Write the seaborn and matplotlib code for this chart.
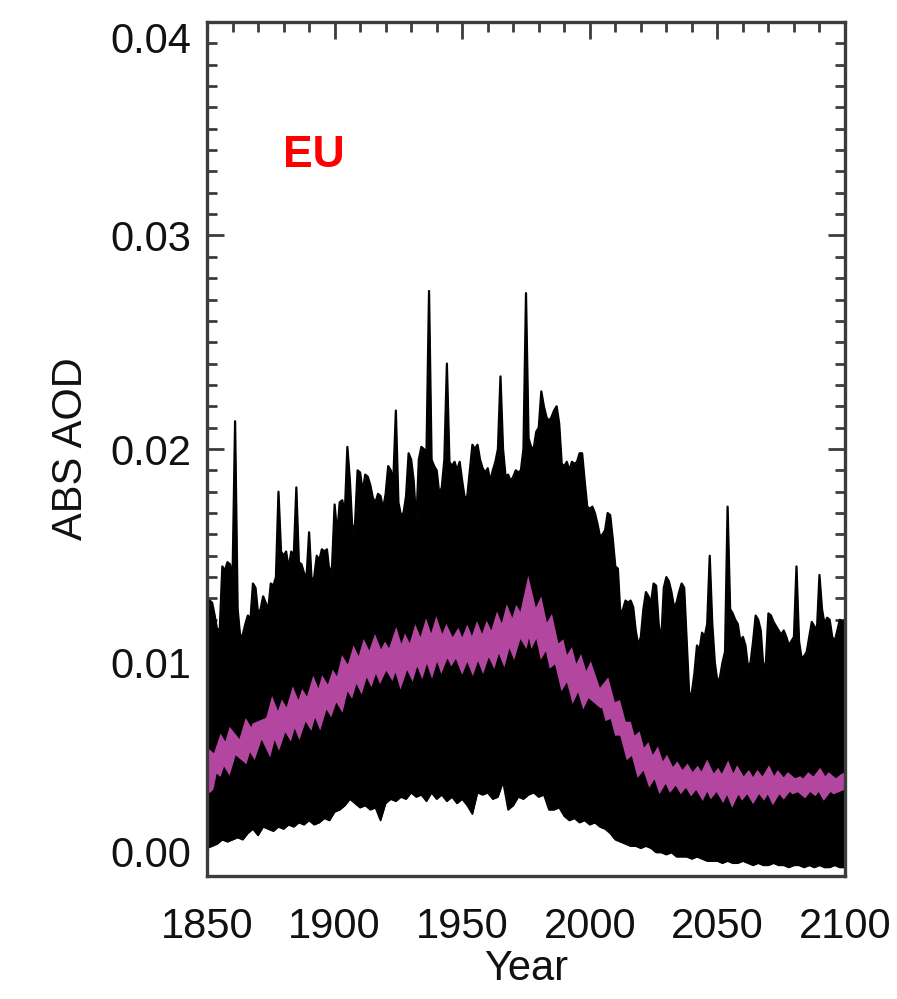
import numpy as np
import pandas as pd
import matplotlib
matplotlib.use("Agg")
import matplotlib.pyplot as plt
from matplotlib.ticker import MultipleLocator, FormatStrFormatter
import seaborn as sns

# ---- data -------------------------------------------------------------
# Yearly upper edge of the model spread (absorbing aerosol optical depth)
YEARS = list(range(1850, 2101))
UPPER = [
    0.0125, 0.0129, 0.0128, 0.0122, 0.0115, 0.0116, 0.0145, 0.0143, 0.0147, 0.0146,  # 1850s
    0.0140, 0.0213, 0.0125, 0.0112, 0.0113, 0.0118, 0.0122, 0.0120, 0.0137, 0.0135,  # 1860s
    0.0123, 0.0125, 0.0131, 0.0128, 0.0125, 0.0137, 0.0136, 0.0140, 0.0180, 0.0152,  # 1870s
    0.0150, 0.0152, 0.0144, 0.0152, 0.0150, 0.0182, 0.0147, 0.0146, 0.0142, 0.0140,  # 1880s
    0.0161, 0.0138, 0.0140, 0.0150, 0.0148, 0.0153, 0.0152, 0.0153, 0.0142, 0.0145,  # 1890s
    0.0174, 0.0160, 0.0175, 0.0176, 0.0170, 0.0201, 0.0185, 0.0161, 0.0165, 0.0190,  # 1900s
    0.0189, 0.0180, 0.0188, 0.0187, 0.0183, 0.0177, 0.0175, 0.0179, 0.0178, 0.0172,  # 1910s
    0.0179, 0.0192, 0.0190, 0.0185, 0.0218, 0.0175, 0.0169, 0.0170, 0.0178, 0.0198,  # 1920s
    0.0195, 0.0185, 0.0165, 0.0195, 0.0201, 0.0200, 0.0198, 0.0274, 0.0195, 0.0192,  # 1930s
    0.0190, 0.0179, 0.0182, 0.0195, 0.0240, 0.0194, 0.0192, 0.0194, 0.0190, 0.0194,  # 1940s
    0.0185, 0.0177, 0.0178, 0.0190, 0.0202, 0.0200, 0.0202, 0.0195, 0.0191, 0.0189,  # 1950s
    0.0191, 0.0185, 0.0190, 0.0194, 0.0200, 0.0234, 0.0200, 0.0187, 0.0188, 0.0185,  # 1960s
    0.0187, 0.0190, 0.0189, 0.0190, 0.0200, 0.0273, 0.0205, 0.0201, 0.0200, 0.0208,  # 1970s
    0.0210, 0.0227, 0.0220, 0.0215, 0.0213, 0.0215, 0.0218, 0.0220, 0.0212, 0.0193,  # 1980s
    0.0192, 0.0194, 0.0190, 0.0194, 0.0193, 0.0194, 0.0198, 0.0198, 0.0185, 0.0173,  # 1990s
    0.0172, 0.0173, 0.0170, 0.0165, 0.0159, 0.0160, 0.0162, 0.0170, 0.0169, 0.0158,  # 2000s
    0.0145, 0.0144, 0.0122, 0.0125, 0.0129, 0.0128, 0.0129, 0.0126, 0.0115, 0.0108,  # 2010s
    0.0112, 0.0125, 0.0133, 0.0131, 0.0128, 0.0137, 0.0136, 0.0118, 0.0110, 0.0135,  # 2020s
    0.0140, 0.0138, 0.0133, 0.0126, 0.0128, 0.0133, 0.0137, 0.0135, 0.0110, 0.0084,  # 2030s
    0.0086, 0.0095, 0.0108, 0.0106, 0.0114, 0.0112, 0.0118, 0.0150, 0.0118, 0.0100,  # 2040s
    0.0091, 0.0093, 0.0100, 0.0105, 0.0173, 0.0125, 0.0123, 0.0120, 0.0118, 0.0110,  # 2050s
    0.0112, 0.0108, 0.0098, 0.0100, 0.0110, 0.0122, 0.0120, 0.0115, 0.0098, 0.0100,  # 2060s
    0.0123, 0.0122, 0.0119, 0.0117, 0.0115, 0.0113, 0.0115, 0.0112, 0.0108, 0.0110,  # 2070s
    0.0112, 0.0145, 0.0110, 0.0102, 0.0103, 0.0105, 0.0112, 0.0119, 0.0117, 0.0115,  # 2080s
    0.0141, 0.0125, 0.0118, 0.0121, 0.0120, 0.0112, 0.0110, 0.0115, 0.0120, 0.0119,  # 2090s
    0.0120,                                                                          # 2100
]

# Biennial lower edge of the spread and ensemble mean
YEARS2 = list(range(1850, 2101, 2))
LOWER = [
    0.0013, 0.0014, 0.0015, 0.0017, 0.0016, 0.0017, 0.0018, 0.0017, 0.0020, 0.0022,  # 1850-1868
    0.0019, 0.0023, 0.0022, 0.0021, 0.0023, 0.0022, 0.0024, 0.0023, 0.0025, 0.0024,  # 1870-1888
    0.0026, 0.0024, 0.0025, 0.0027, 0.0026, 0.0030, 0.0031, 0.0033, 0.0036, 0.0034,  # 1890-1908
    0.0032, 0.0033, 0.0031, 0.0032, 0.0026, 0.0034, 0.0036, 0.0035, 0.0037, 0.0036,  # 1910-1928
    0.0039, 0.0037, 0.0038, 0.0035, 0.0039, 0.0036, 0.0038, 0.0035, 0.0037, 0.0034,  # 1930-1948
    0.0036, 0.0033, 0.0029, 0.0039, 0.0038, 0.0039, 0.0036, 0.0037, 0.0044, 0.0031,  # 1950-1968
    0.0033, 0.0037, 0.0036, 0.0038, 0.0039, 0.0037, 0.0038, 0.0031, 0.0031, 0.0032,  # 1970-1988
    0.0028, 0.0026, 0.0027, 0.0025, 0.0026, 0.0024, 0.0025, 0.0023, 0.0022, 0.0020,  # 1990-2008
    0.0017, 0.0016, 0.0015, 0.0014, 0.0014, 0.0013, 0.0014, 0.0013, 0.0011, 0.0011,  # 2010-2028
    0.0010, 0.0011, 0.0009, 0.0009, 0.0009, 0.0008, 0.0009, 0.0008, 0.0007, 0.0007,  # 2030-2048
    0.0007, 0.0006, 0.0007, 0.0006, 0.0006, 0.0007, 0.0006, 0.0005, 0.0006, 0.0005,  # 2050-2068
    0.0005, 0.0006, 0.0005, 0.0005, 0.0004, 0.0005, 0.0005, 0.0004, 0.0005, 0.0004,  # 2070-2088
    0.0005, 0.0004, 0.0004, 0.0005, 0.0004, 0.0004,                                  # 2090-2100
]
MEAN = [
    0.0042, 0.0054, 0.0052, 0.0059, 0.0055, 0.0063, 0.0060, 0.0058, 0.0066, 0.0062,  # 1850-1868
    0.0069, 0.0070, 0.0065, 0.0074, 0.0068, 0.0075, 0.0071, 0.0079, 0.0073, 0.0080,  # 1870-1888
    0.0076, 0.0084, 0.0078, 0.0086, 0.0082, 0.0089, 0.0085, 0.0095, 0.0091, 0.0099,  # 1890-1908
    0.0094, 0.0102, 0.0097, 0.0104, 0.0098, 0.0103, 0.0099, 0.0106, 0.0098, 0.0105,  # 1910-1928
    0.0100, 0.0108, 0.0102, 0.0110, 0.0103, 0.0111, 0.0104, 0.0110, 0.0105, 0.0109,  # 1930-1948
    0.0103, 0.0109, 0.0103, 0.0110, 0.0104, 0.0111, 0.0106, 0.0114, 0.0108, 0.0117,  # 1950-1968
    0.0111, 0.0119, 0.0115, 0.0126, 0.0116, 0.0121, 0.0110, 0.0114, 0.0103, 0.0105,  # 1970-1988
    0.0095, 0.0099, 0.0090, 0.0095, 0.0087, 0.0092, 0.0085, 0.0083, 0.0086, 0.0077,  # 1990-2008
    0.0078, 0.0069, 0.0069, 0.0060, 0.0062, 0.0053, 0.0056, 0.0049, 0.0053, 0.0046,  # 2010-2028
    0.0050, 0.0045, 0.0048, 0.0044, 0.0047, 0.0043, 0.0046, 0.0042, 0.0047, 0.0042,  # 2030-2048
    0.0045, 0.0041, 0.0046, 0.0040, 0.0045, 0.0041, 0.0044, 0.0040, 0.0044, 0.0041,  # 2050-2068
    0.0045, 0.0040, 0.0044, 0.0041, 0.0044, 0.0042, 0.0043, 0.0041, 0.0044, 0.0042,  # 2070-2088
    0.0045, 0.0041, 0.0044, 0.0042, 0.0043, 0.0045,                                  # 2090-2100
]

REGION = "EU"
X_TICKS = [1850, 1900, 1950, 2000, 2050, 2100]
Y_TICKS = [0.00, 0.01, 0.02, 0.03, 0.04]

# ---- style ------------------------------------------------------------
sns.set_theme(style="ticks")
plt.rcParams["font.family"] = ["Liberation Sans", "DejaVu Sans"]

SPINE = "#3c3c3c"
MAGENTA = "#b3479f"

fig = plt.figure(figsize=(8.97, 9.99), dpi=100)
ax = fig.add_axes([0.2308, 0.1231, 0.7112, 0.8549])

upper_df = pd.DataFrame({"year": YEARS, "aod": UPPER})
spread_df = pd.DataFrame({"year": YEARS2, "low": LOWER, "mean": MEAN})

# black spread: fill up to the upper edge, then clear below the lower edge
ax.fill_between(upper_df["year"], 0, upper_df["aod"], color="black",
                linewidth=0, zorder=1)
sns.lineplot(data=upper_df, x="year", y="aod", ax=ax, color="black",
             linewidth=1.6, zorder=1.2, estimator=None)
ax.fill_between(spread_df["year"], 0, spread_df["low"], color="white",
                linewidth=0, zorder=1.3)
sns.lineplot(data=spread_df, x="year", y="low", ax=ax, color="black",
             linewidth=1.2, zorder=1.35, estimator=None)

# ensemble mean
sns.lineplot(data=spread_df, x="year", y="mean", ax=ax, color=MAGENTA,
             linewidth=10, zorder=2, estimator=None,
             solid_joinstyle="miter")

ax.set_xlim(1850, 2100)
ax.set_ylim(0.0, 0.04)
ax.set_xticks(X_TICKS)
ax.set_yticks(Y_TICKS)
ax.xaxis.set_minor_locator(MultipleLocator(10))
ax.yaxis.set_minor_locator(MultipleLocator(0.001))
ax.yaxis.set_major_formatter(FormatStrFormatter("%.2f"))

for side in ["left", "right", "top", "bottom"]:
    ax.spines[side].set_visible(True)
    ax.spines[side].set_color(SPINE)
    ax.spines[side].set_linewidth(2.4)
    ax.spines[side].set_zorder(3)

ax.tick_params(which="major", direction="in", length=12, width=2,
               color=SPINE, top=True, right=True, labelsize=30,
               labelcolor="#111111")
ax.tick_params(which="minor", direction="in", length=7, width=2,
               color=SPINE, top=True, right=True)
ax.tick_params(axis="y", which="major", pad=11)
ax.tick_params(axis="x", which="major", pad=22)

yt = ax.yaxis.get_major_ticks()
yt[0].label1.set_va("bottom")
yt[-1].label1.set_va("top")

ax.set_xlabel("Year", fontsize=30, color="#111111", labelpad=2)
ax.set_ylabel("ABS AOD", fontsize=30, color="#111111", labelpad=14)

ax.text(0.119, 0.844, REGION, transform=ax.transAxes, color="#ff0000",
        fontsize=32, fontweight="bold", ha="left", va="center")

fig.savefig("out.png", dpi=100)
